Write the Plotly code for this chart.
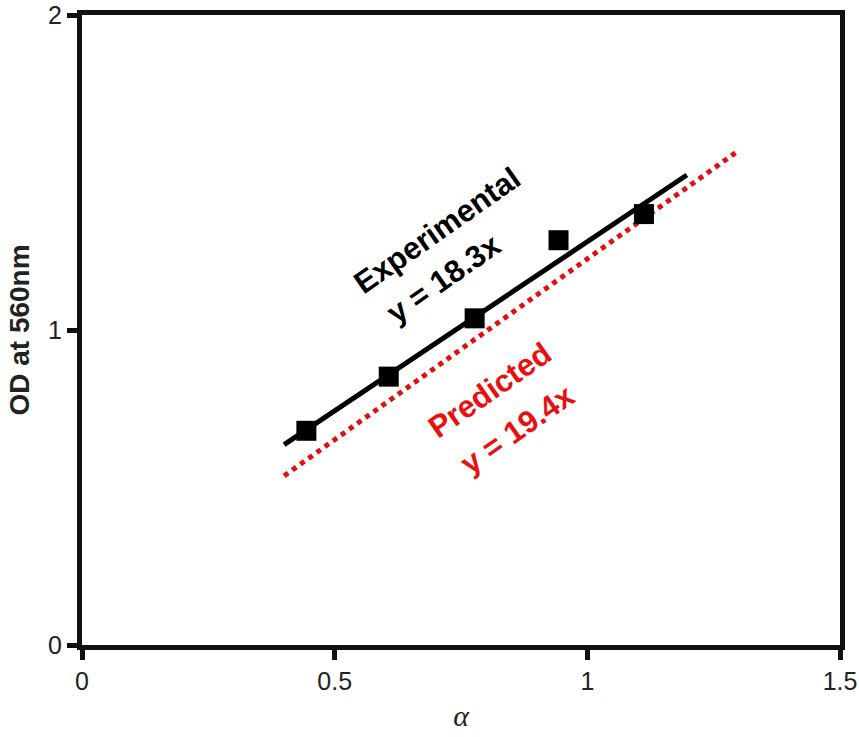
import plotly.graph_objects as go

# measured data points
alpha_pts = [0.444, 0.607, 0.777, 0.943, 1.112]
od_pts = [0.680, 0.852, 1.037, 1.285, 1.368]

# fit lines (endpoints as drawn)
exp_x = [0.40, 1.197]
exp_y = [0.636, 1.492]
pred_x = [0.40, 1.298]
pred_y = [0.537, 1.568]

x_ticks = [0, 0.5, 1, 1.5]
x_ticktext = ["0", "0.5", "1", "1.5"]
y_ticks = [0, 1, 2]
y_ticktext = ["0", "1", "2"]

fig = go.Figure()
fig.add_trace(go.Scatter(x=pred_x, y=pred_y, mode="lines",
                         line=dict(color="#e01010", width=5, dash="dot"),
                         showlegend=False))
fig.add_trace(go.Scatter(x=exp_x, y=exp_y, mode="lines",
                         line=dict(color="black", width=5),
                         showlegend=False))
fig.add_trace(go.Scatter(x=alpha_pts, y=od_pts, mode="markers",
                         marker=dict(symbol="square", size=20, color="black"),
                         showlegend=False, cliponaxis=False))

font_ann = "Arial, Liberation Sans, sans-serif"
fig.add_annotation(x=0.703, y=1.315, text="<b>Experimental</b>", showarrow=False,
                   textangle=-35, font=dict(family=font_ann, size=31, color="black"))
fig.add_annotation(x=0.716, y=1.165, text="<b>y = 18.3x</b>", showarrow=False,
                   textangle=-35, font=dict(family=font_ann, size=31, color="black"))
fig.add_annotation(x=0.806, y=0.809, text="<b>Predicted</b>", showarrow=False,
                   textangle=-35, font=dict(family=font_ann, size=31, color="#e81010"))
fig.add_annotation(x=0.861, y=0.685, text="<b>y = 19.4x</b>", showarrow=False,
                   textangle=-35, font=dict(family=font_ann, size=31, color="#e81010"))

axis_common = dict(showgrid=False, zeroline=False, showline=True, linecolor="#111",
                   linewidth=5, mirror=True, ticks="outside", ticklen=10, tickwidth=5,
                   tickcolor="#111", automargin=False,
                   tickfont=dict(family=font_ann, size=25, color="#222"))

fig.update_xaxes(range=[0, 1.5], tickvals=x_ticks, ticktext=x_ticktext,
                 title=dict(text="<i>α</i>", font=dict(family="Liberation Serif, serif", size=30, color="#222"),
                            standoff=12),
                 **axis_common)
fig.update_yaxes(range=[0, 2], tickvals=y_ticks, ticktext=y_ticktext,
                 title=dict(text="<b>OD at 560nm</b>", font=dict(family=font_ann, size=28, color="#222"),
                            standoff=12),
                 **axis_common)

fig.update_layout(width=859, height=737, plot_bgcolor="white", paper_bgcolor="white",
                  margin=dict(l=82, r=19, t=15, b=92))
fig.write_html("out.html")
